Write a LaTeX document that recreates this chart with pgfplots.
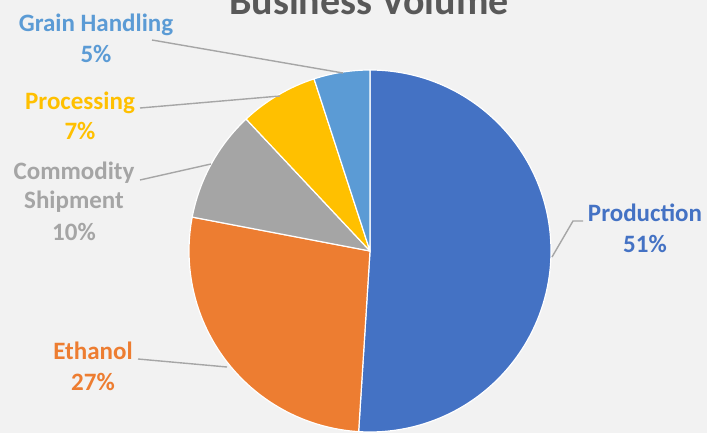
\documentclass[border=0pt]{standalone}
\usepackage{pgfplots}
\pgfplotsset{compat=1.18}
\usepackage{pgfplotstable}
\usepackage{fontspec}
\setmainfont{Carlito}

\definecolor{bgc}{HTML}{F2F2F2}
\definecolor{titlec}{HTML}{595959}
\definecolor{linec}{HTML}{A6A6A6}
\definecolor{prodc}{HTML}{4472C4}
\definecolor{ethc}{HTML}{ED7D31}
\definecolor{commc}{HTML}{A5A5A5}
\definecolor{procc}{HTML}{FFC000}
\definecolor{grainc}{HTML}{5B9BD5}

% shares in percent, clockwise from 12 o'clock
\pgfplotstableread[col sep=comma]{
share,col
51,prodc
27,ethc
10,commc
7,procc
5,grainc
}\pietable

\newcommand{\lbl}{\fontsize{25}{30}\selectfont\bfseries}

\begin{document}
\begin{tikzpicture}
\begin{scope}
\clip (0,0) rectangle (707pt,433pt);
\fill[bgc] (0,0) rectangle (707pt,433pt);
\begin{axis}[
  at={(0,0)}, anchor=south west,
  scale only axis, width=707pt, height=433pt,
  xmin=0, xmax=707, ymin=0, ymax=433,
  y dir=reverse,
  hide axis, clip=false,
]
\xdef\pieStart{90}
\pgfplotsforeachungrouped \k in {0,...,4}{
  \pgfplotstablegetelem{\k}{share}\of\pietable
  \pgfmathsetmacro{\pieEnd}{\pieStart-3.6*\pgfplotsretval}
  \pgfplotstablegetelem{\k}{col}\of\pietable
  \let\pieCol\pgfplotsretval
  \edef\pieCmd{\noexpand\fill[\pieCol, draw=white, line width=1.2pt, line join=round]
    (axis cs:370,251) -- ++(\pieStart:181pt)
    arc[start angle=\pieStart, end angle=\pieEnd, radius=181pt] -- cycle;}
  \pieCmd
  \xdef\pieStart{\pieEnd}
}

% leader lines
\draw[linec, line width=1.4pt] (axis cs:152,40) -- (axis cs:343,73);
\draw[linec, line width=1.4pt] (axis cs:140,108) -- (axis cs:280,96);
\draw[linec, line width=1.4pt] (axis cs:140,180) -- (axis cs:211,164);
\draw[linec, line width=1.4pt] (axis cs:583,221) -- (axis cs:573,221) -- (axis cs:552,257);
\draw[linec, line width=1.4pt] (axis cs:138,359) -- (axis cs:227,367);

% title
\node[anchor=base, text=titlec, font=\fontsize{40}{48}\selectfont\bfseries]
  at (axis cs:369,15) {Business Volume};

% labels
\node[anchor=base, text=grainc, font=\lbl] at (axis cs:96,32) {Grain Handling};
\node[anchor=base, text=grainc, font=\lbl] at (axis cs:96,63) {5\%};
\node[anchor=base, text=procc, font=\lbl] at (axis cs:80,110) {Processing};
\node[anchor=base, text=procc, font=\lbl] at (axis cs:80,140) {7\%};
\node[anchor=base, text=commc, font=\lbl] at (axis cs:74,179) {Commodity};
\node[anchor=base, text=commc, font=\lbl] at (axis cs:74,208) {Shipment};
\node[anchor=base, text=commc, font=\lbl] at (axis cs:74,240) {10\%};
\node[anchor=base, text=prodc, font=\lbl] at (axis cs:645,222) {Production};
\node[anchor=base, text=prodc, font=\lbl] at (axis cs:645,252) {51\%};
\node[anchor=base, text=ethc, font=\lbl] at (axis cs:93,359) {Ethanol};
\node[anchor=base, text=ethc, font=\lbl] at (axis cs:93,390) {27\%};
\end{axis}
\end{scope}
\pgfresetboundingbox
\path (0,0) rectangle (707pt,433pt);
\end{tikzpicture}
\end{document}
